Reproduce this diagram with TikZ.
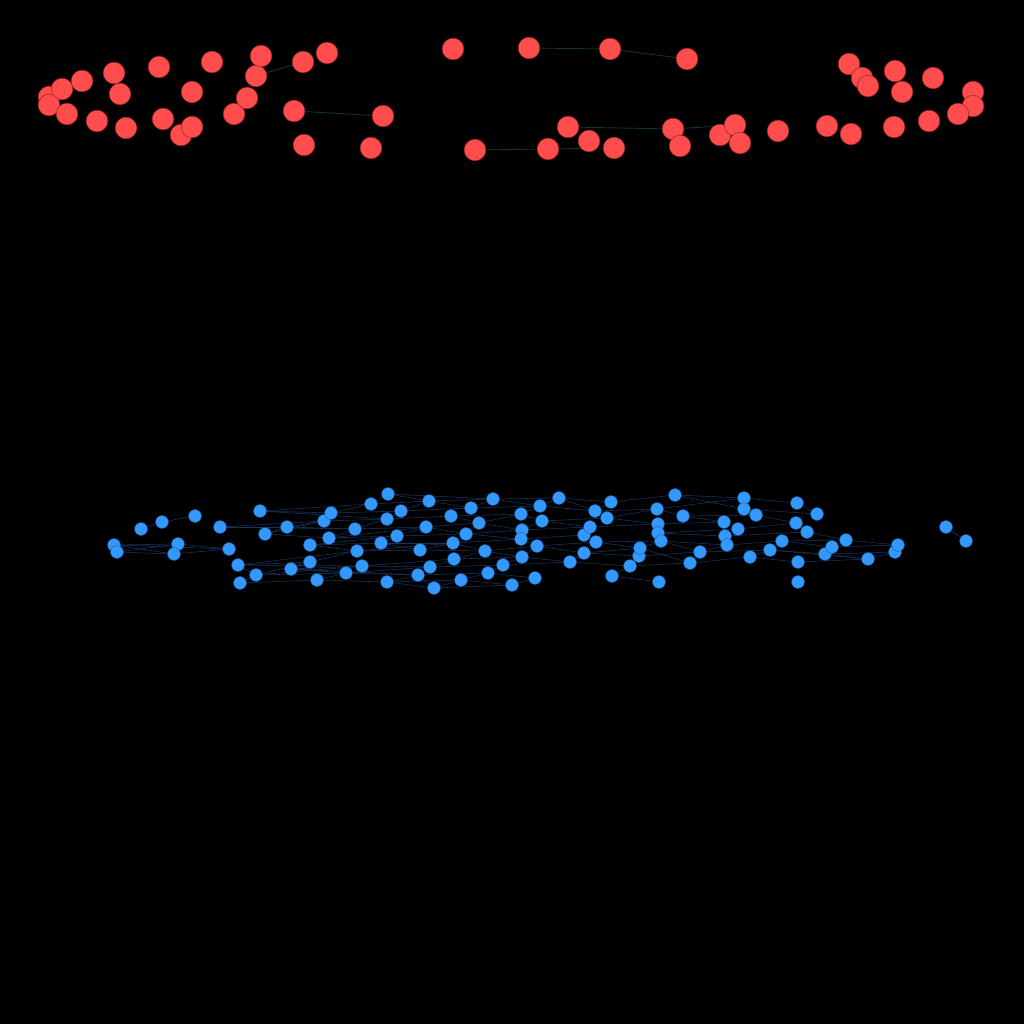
\documentclass[tikz,border=0pt]{standalone}
\usepackage{tikz}
\usetikzlibrary{backgrounds}

\definecolor{rnodefill}{HTML}{FF4D4D}
\definecolor{rnodeline}{HTML}{A02828}
\definecolor{bnodefill}{HTML}{3399FF}
\definecolor{bnodeline}{HTML}{1F5C99}
\definecolor{redge}{HTML}{0C3D1C}
\definecolor{bedge}{HTML}{17335E}

\tikzset{
  rnode/.style={circle,fill=rnodefill,draw=rnodeline,line width=0.4pt,inner sep=0pt,minimum size=0.54cm},
  bnode/.style={circle,fill=bnodefill,draw=bnodeline,line width=0.3pt,inner sep=0pt,minimum size=0.32cm},
  rlink/.style={draw=redge,line width=0.6pt},
  blink/.style={draw=bedge,line width=0.4pt}
}

\begin{document}
\begin{tikzpicture}[x=0.025cm,y=-0.025cm]
\useasboundingbox (0,0) rectangle (1024,1024);
% upper group
\foreach \n/\px/\py in {r1/49/97,r2/62/89,r3/49/105,r4/82/81,r5/114/73,r6/67/114,r7/97/121,r8/120/94,
  r9/126/128,r10/159/67,r11/163/119,r12/181/135,r13/192/127,r14/192/92,r15/212/62,r16/234/114,
  r17/247/98,r18/256/76,r19/261/56,r20/303/62,r21/327/53,r22/294/111,r23/383/116,r24/304/145,
  r25/371/148,r26/453/49,r27/529/48,r28/610/49,r29/687/59,r30/568/127,r31/589/141,r32/614/148,
  r33/475/150,r34/548/149,r35/673/129,r36/680/146,r37/720/135,r38/735/125,r39/740/143,r40/778/131,
  r41/827/126,r42/851/134,r43/849/64,r44/862/78,r45/868/86,r46/895/71,r47/902/92,r48/933/78,
  r49/973/92,r50/973/106,r51/958/114,r52/929/121,r53/894/127}
  \node[rnode] (\n) at (\px,\py) {};
% lower group
\foreach \n/\px/\py in {b1/114/545,b2/117/552,b3/141/529,b4/162/522,b5/195/516,b6/178/544,b7/174/554,
  b8/220/527,b9/229/549,b10/238/565,b11/240/583,b12/256/575,b13/260/511,b14/265/534,b15/287/527,
  b16/291/569,b17/310/545,b18/310/562,b19/317/580,b20/324/521,b21/331/513,b22/329/538,b23/346/573,
  b24/355/529,b25/357/551,b26/362/566,b27/371/504,b28/381/543,b29/388/494,b30/387/519,b31/387/582,
  b32/401/511,b33/397/536,b34/418/575,b35/420/550,b36/426/527,b37/430/567,b38/429/501,b39/434/588,
  b40/451/516,b41/453/543,b42/454/559,b43/461/580,b44/466/534,b45/471/508,b46/479/523,b47/485/551,
  b48/488/573,b49/493/499,b50/503/565,b51/512/585,b52/521/514,b53/522/530,b54/521/539,b55/522/557,
  b56/535/578,b57/537/546,b58/540/506,b59/542/521,b60/559/498,b61/570/562,b62/584/535,b63/584/553,
  b64/590/527,b65/595/511,b66/596/542,b67/607/518,b68/611/502,b69/612/576,b70/630/566,b71/639/556,
  b72/640/548,b73/657/509,b74/658/524,b75/658/533,b76/661/541,b77/659/582,b78/675/495,b79/683/516,
  b80/690/563,b81/700/552,b82/724/522,b83/725/536,b84/727/545,b85/738/529,b86/744/498,b87/744/509,
  b88/750/557,b89/756/515,b90/770/550,b91/782/541,b92/797/503,b93/796/523,b94/807/532,b95/798/562,
  b96/798/582,b97/817/514,b98/825/554,b99/832/547,b100/846/540,b101/868/559,b102/895/552,
  b103/898/545,b104/946/527,b105/966/541}
  \node[bnode] (\n) at (\px,\py) {};
\begin{pgfonlayer}{background}
\fill[black] (0,0) rectangle (1024,1024);
\foreach \a/\b in {r18/r20,r22/r23,r27/r28,r28/r29,r30/r35,r35/r38,r33/r34,r34/r32}
  \draw[rlink] (\a) -- (\b);
\foreach \a/\b in {b1/b6,b1/b7,b2/b6,b2/b7,b1/b9,b6/b9,b7/b9,b3/b4,b4/b5,
  b8/b15,b8/b20,b8/b24,b13/b21,b13/b27,b13/b30,b14/b15,b14/b22,b14/b20,
  b10/b18,b10/b25,b10/b26,b12/b18,b12/b23,b12/b26,b11/b19,b16/b23,b16/b26,b16/b34,
  b15/b20,b15/b24,b17/b25,b17/b28,b17/b33,b18/b25,b19/b23,b19/b31,b20/b21,b20/b30,
  b21/b27,b21/b32,b22/b24,b22/b33,b22/b36,b23/b34,b23/b37,b24/b30,b24/b36,b25/b35,
  b25/b41,b26/b37,b26/b42,b27/b29,b27/b38,b28/b33,b28/b35,b28/b41,b29/b38,b29/b49,
  b30/b32,b30/b40,b31/b34,b31/b39,b31/b43,b32/b38,b32/b45,b33/b36,b33/b44,b34/b39,
  b34/b48,b35/b41,b35/b47,b36/b44,b36/b46,b37/b42,b37/b50,b38/b45,b38/b49,b39/b43,
  b39/b51,b40/b46,b40/b52,b41/b47,b41/b54,b42/b47,b42/b55,b43/b48,b43/b51,b44/b53,
  b44/b54,b45/b49,b45/b58,b46/b52,b46/b53,b47/b55,b47/b57,b48/b50,b48/b56,b49/b58,
  b49/b60,b50/b55,b50/b61,b51/b56,b52/b58,b52/b59,b53/b59,b53/b64,b54/b57,b54/b62,
  b55/b57,b55/b61,b57/b66,b57/b63,b58/b60,b58/b65,b59/b64,b59/b67,b60/b68,b60/b65,
  b61/b63,b61/b70,b62/b66,b62/b64,b63/b71,b63/b72,b64/b74,b65/b68,b65/b73,b66/b72,
  b66/b76,b67/b74,b67/b73,b68/b78,b69/b77,b69/b70,b70/b71,b70/b80,b71/b81,b72/b76,
  b72/b80,b73/b79,b73/b86,b74/b75,b74/b82,b75/b83,b75/b85,b76/b84,b76/b81,b78/b86,
  b78/b87,b79/b89,b79/b82,b80/b81,b80/b88,b81/b84,b81/b90,b82/b85,b83/b94,b84/b91,
  b85/b93,b86/b92,b87/b89,b87/b97,b88/b90,b88/b95,b89/b93,b90/b98,b90/b101,b91/b99,
  b91/b100,b92/b97,b93/b94,b94/b100,b95/b101,b98/b102,b99/b103,b100/b103,b101/b102,
  b98/b101,b104/b105,b11/b12,b10/b12}
  \draw[blink] (\a) -- (\b);
\end{pgfonlayer}
\end{tikzpicture}
\end{document}
